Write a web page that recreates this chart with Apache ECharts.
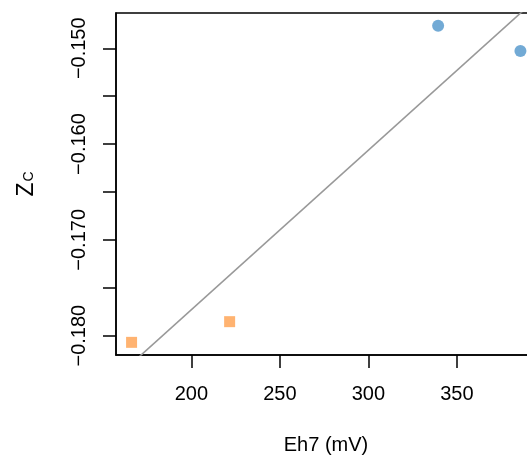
<!DOCTYPE html>
<html>
<head>
<meta charset="utf-8">
<script src="https://cdn.jsdelivr.net/npm/echarts@6/dist/echarts.min.js"></script>
<style>html,body{margin:0;padding:0;background:#fff}#c{width:527px;height:456px}</style>
</head>
<body>
<div id="c"></div>
<script>
// Data
var blueX = [339.4, 385.9];
var blueY = [-0.14764, -0.15028];
var orangeX = [166.2, 221.6];
var orangeY = [-0.18070, -0.17854];
// fitted regression line (slope, intercept)
var fitSlope = 0.0001665;
var fitIntercept = -0.21059;
var fitXEnds = [150, 400];
// axis ranges and ticks
var xMin = 157.4, xMax = 394.7;
var yMin = -0.18202, yMax = -0.14632;
var xTicks = [200, 250, 300, 350];
var yTicks = [-0.180, -0.175, -0.170, -0.165, -0.160, -0.155, -0.150];
var yLabels = [-0.180, -0.170, -0.160, -0.150];

var font = 'Liberation Sans, Arial, Helvetica, sans-serif';
var chart = echarts.init(document.getElementById('c'), null, {renderer: 'canvas'});
var fitLine = fitXEnds.map(function (x) { return [x, fitIntercept + fitSlope * x]; });

chart.setOption({
  animation: false,
  grid: {left: 116, top: 13, right: -9, bottom: 101, show: true, borderColor: '#000', borderWidth: 1.5,
    backgroundColor: 'transparent', containLabel: false, outerBoundsMode: 'none'},
  xAxis: {
    type: 'value', min: xMin, max: xMax,
    splitLine: {show: false},
    axisLine: {show: true, lineStyle: {color: '#000', width: 1.5}},
    axisTick: {show: true, length: 13, lineStyle: {color: '#000', width: 1.5}, customValues: xTicks},
    axisLabel: {customValues: xTicks, margin: 29, fontSize: 20, color: '#000', fontFamily: font},
    name: 'Eh7 (mV)', nameLocation: 'middle', nameGap: 80,
    nameTextStyle: {fontSize: 20, color: '#000', fontFamily: font}
  },
  yAxis: {
    type: 'value', min: yMin, max: yMax,
    splitLine: {show: false},
    axisLine: {show: true, lineStyle: {color: '#000', width: 1.5}},
    axisTick: {show: true, length: 13, lineStyle: {color: '#000', width: 1.5}, customValues: yTicks},
    axisLabel: {customValues: yLabels, rotate: 90, margin: 27, fontSize: 20, color: '#000', fontFamily: font,
      formatter: function (v) { return '\u2212' + Math.abs(v).toFixed(3); }},
    name: '{z|Z}{c|C}', nameLocation: 'middle', nameGap: 78, nameRotate: 90,
    nameTextStyle: {fontFamily: font, color: '#000',
      rich: {z: {fontSize: 23, fontFamily: font, color: '#000'}, c: {fontSize: 14, fontFamily: font, color: '#000', padding: [6, 0, 0, 1]}}}
  },
  series: [
    {type: 'line', data: fitLine, symbol: 'none', clip: true, silent: true,
      lineStyle: {color: '#999999', width: 1.6}, z: 1},
    {type: 'scatter', data: blueX.map(function (x, i) { return [x, blueY[i]]; }),
      symbol: 'circle', symbolSize: 12, itemStyle: {color: '#4F95CB'}, z: 3},
    {type: 'scatter', data: orangeX.map(function (x, i) { return [x, orangeY[i]]; }),
      symbol: 'rect', symbolSize: 11, itemStyle: {color: '#FFA04D'}, z: 3}
  ]
});
</script>
</body>
</html>
